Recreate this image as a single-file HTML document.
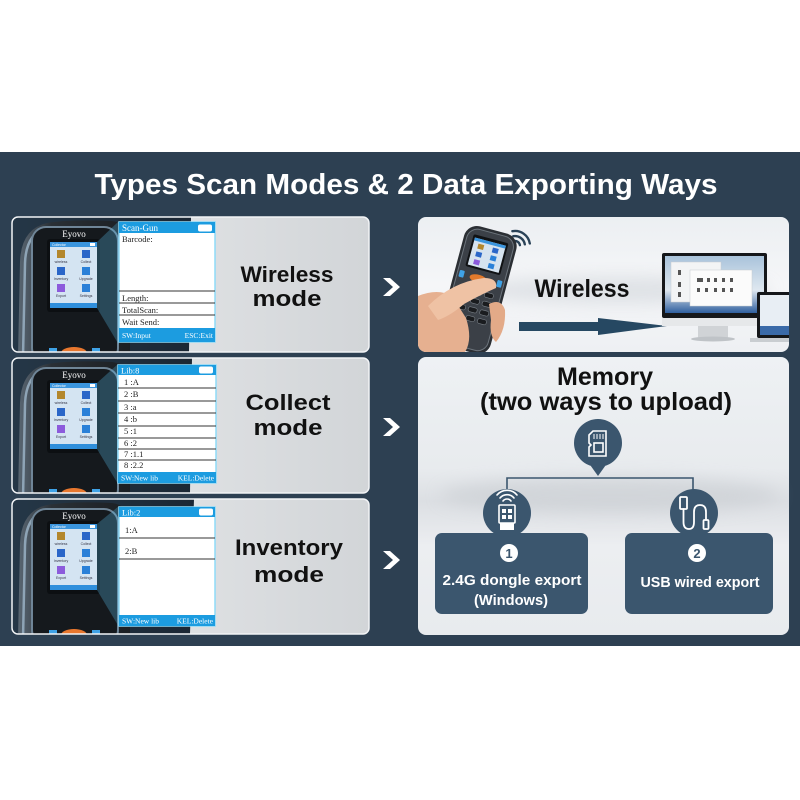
<!DOCTYPE html>
<html><head><meta charset="utf-8"><style>
html,body{margin:0;padding:0;background:#fff;width:800px;height:800px;overflow:hidden}
svg{display:block}
text{font-family:"Liberation Sans",sans-serif}
.sf{font-family:"Liberation Serif",serif}
</style></head><body>
<svg width="800" height="800" viewBox="0 0 800 800" xmlns="http://www.w3.org/2000/svg">
<defs>
 <linearGradient id="lp" x1="0" x2="1" y1="0" y2="0"><stop offset="0" stop-color="#e9ebed"/><stop offset="1" stop-color="#d2d5d8"/></linearGradient>
 <linearGradient id="dk" x1="0" x2="1"><stop offset="0" stop-color="#253747"/><stop offset="1" stop-color="#1b2734"/></linearGradient>
 <linearGradient id="shell" x1="0" x2="1"><stop offset="0" stop-color="#5a6773"/><stop offset="0.3" stop-color="#2a3036"/><stop offset="1" stop-color="#1b1f23"/></linearGradient>
 <linearGradient id="rt" x1="0" y1="0" x2="0" y2="1"><stop offset="0" stop-color="#eceff2"/><stop offset="0.5" stop-color="#f5f6f8"/><stop offset="1" stop-color="#eef0f3"/></linearGradient>
 <linearGradient id="rb" x1="0" y1="0" x2="0" y2="1"><stop offset="0" stop-color="#eef1f4"/><stop offset="0.4" stop-color="#e8ebee"/><stop offset="0.52" stop-color="#dcdfe3"/><stop offset="0.68" stop-color="#eceef1"/><stop offset="1" stop-color="#e8ebee"/></linearGradient>
 <linearGradient id="desk" x1="0" y1="0" x2="0" y2="1"><stop offset="0" stop-color="#a9c3db"/><stop offset="0.6" stop-color="#dfe8f0"/><stop offset="1" stop-color="#2f5f9e"/></linearGradient>
 <clipPath id="cp"><rect x="0" y="0" width="357" height="135" rx="6"/></clipPath>
 <clipPath id="cpr"><rect x="418" y="217" width="371" height="135" rx="8"/></clipPath>
 <filter id="bl" x="-50%" y="-50%" width="200%" height="200%"><feGaussianBlur stdDeviation="8"/></filter>
</defs>

<rect x="0" y="152" width="800" height="494" fill="#2d4052"/>
<text x="406" y="194" text-anchor="middle" font-size="29" font-weight="bold" fill="#fff" textLength="623" lengthAdjust="spacingAndGlyphs">Types Scan Modes &amp; 2 Data Exporting Ways</text>

<!-- ========== LEFT PANEL 1 ========== -->
<g transform="translate(12,217)">
 <g clip-path="url(#cp)">
  <rect x="0" y="0" width="357" height="135" fill="url(#lp)"/>
  <polygon points="0,0 179,0 177,135 0,135" fill="url(#dk)"/>
  <path d="M6,140 L8,45 Q9,12 35,6 Q60,2 100,4 Q116,6 118,22 L118,140 Z" fill="url(#shell)"/>
  <path d="M11,140 L13,46 Q14,17 34,11" fill="none" stroke="#8ea4b6" stroke-width="2.5"/>
  <rect x="20" y="10" width="86" height="135" rx="14" fill="#15191d" stroke="#6f8597" stroke-width="2"/>
  <text x="62" y="20" class="sf" font-size="9" fill="#fff" text-anchor="middle">Eyovo</text>
  <rect x="35" y="22" width="53" height="73" rx="3" fill="#0c0f12"/>
  <rect x="38" y="25" width="47" height="66" fill="#d4e4f2"/>
  <rect x="38" y="25" width="47" height="5" fill="#3a95de"/>
  <text x="40" y="29" font-size="3.5" fill="#fff">Collector</text>
  <rect x="78" y="26" width="5" height="3" fill="#fff"/>
  <rect x="45" y="33" width="8" height="8" fill="#b3872c"/><rect x="70" y="33" width="8" height="8" fill="#2a66c8"/>
  <rect x="45" y="50" width="8" height="8" fill="#2a66c8"/><rect x="70" y="50" width="8" height="8" fill="#2a80d8"/>
  <rect x="45" y="67" width="8" height="8" fill="#8c5bdc"/><rect x="70" y="67" width="8" height="8" fill="#2a80d8"/>
  <g font-size="3.5" fill="#334" text-anchor="middle"><text x="49" y="46">wireless</text><text x="74" y="46">Collect</text><text x="49" y="63">Inventory</text><text x="74" y="63">Upgrade</text><text x="49" y="80">Export</text><text x="74" y="80">Settings</text></g>
  <rect x="38" y="86" width="47" height="5" fill="#2f8fdc"/>
  <ellipse cx="62" cy="136" rx="13" ry="6" fill="#e8772e"/>
  <rect x="37" y="131" width="8" height="6" fill="#3fa2e6"/><rect x="80" y="131" width="8" height="6" fill="#3fa2e6"/>
  <polygon points="85,25 107,4 107,128 85,91" fill="#5ab8e6" opacity="0.3"/>
  <rect x="107" y="5" width="96" height="120" fill="#fff" stroke="#8fdaf7" stroke-width="1.5"/>
  <rect x="107" y="5" width="96" height="11" fill="#1c9ce0"/>
  <text x="110" y="14" class="sf" font-size="9" fill="#fff">Scan-Gun</text>
  <rect x="186" y="7.5" width="14" height="7" rx="2" fill="#fff"/>
  <g class="sf" font-size="8.5" fill="#222">
   <text x="110" y="25" class="sf">Barcode:</text>
   <text x="110" y="84" class="sf">Length:</text>
   <text x="110" y="96" class="sf">TotalScan:</text>
   <text x="110" y="108" class="sf">Wait Send:</text>
  </g>
  <g stroke="#333" stroke-width="1"><line x1="107" y1="74" x2="203" y2="74"/><line x1="107" y1="86" x2="203" y2="86"/><line x1="107" y1="98" x2="203" y2="98"/></g>
  <rect x="107" y="111" width="96" height="14" fill="#1c9ce0"/>
  <text x="110" y="121" class="sf" font-size="7.5" fill="#fff">SW:Input</text>
  <text x="201" y="121" class="sf" font-size="7.5" fill="#fff" text-anchor="end">ESC:Exit</text>
  <text x="275" y="65" text-anchor="middle" font-size="22" font-weight="bold" fill="#111" textLength="93" lengthAdjust="spacingAndGlyphs">Wireless</text>
  <text x="275" y="89" text-anchor="middle" font-size="22" font-weight="bold" fill="#111" textLength="69" lengthAdjust="spacingAndGlyphs">mode</text>
 </g>
 <rect x="0" y="0" width="357" height="135" rx="6" fill="none" stroke="#f2f4f6" stroke-width="1.5"/>
</g>

<!-- ========== LEFT PANEL 2 ========== -->
<g transform="translate(12,358)">
 <g clip-path="url(#cp)">
  <rect x="0" y="0" width="357" height="135" fill="url(#lp)"/>
  <polygon points="0,0 180,0 178,135 0,135" fill="url(#dk)"/>
  <path d="M6,140 L8,45 Q9,12 35,6 Q60,2 100,4 Q116,6 118,22 L118,140 Z" fill="url(#shell)"/>
  <path d="M11,140 L13,46 Q14,17 34,11" fill="none" stroke="#8ea4b6" stroke-width="2.5"/>
  <rect x="20" y="10" width="86" height="135" rx="14" fill="#15191d" stroke="#6f8597" stroke-width="2"/>
  <text x="62" y="20" class="sf" font-size="9" fill="#fff" text-anchor="middle">Eyovo</text>
  <rect x="35" y="22" width="53" height="73" rx="3" fill="#0c0f12"/>
  <rect x="38" y="25" width="47" height="66" fill="#d4e4f2"/>
  <rect x="38" y="25" width="47" height="5" fill="#3a95de"/>
  <text x="40" y="29" font-size="3.5" fill="#fff">Collector</text>
  <rect x="78" y="26" width="5" height="3" fill="#fff"/>
  <rect x="45" y="33" width="8" height="8" fill="#b3872c"/><rect x="70" y="33" width="8" height="8" fill="#2a66c8"/>
  <rect x="45" y="50" width="8" height="8" fill="#2a66c8"/><rect x="70" y="50" width="8" height="8" fill="#2a80d8"/>
  <rect x="45" y="67" width="8" height="8" fill="#8c5bdc"/><rect x="70" y="67" width="8" height="8" fill="#2a80d8"/>
  <g font-size="3.5" fill="#334" text-anchor="middle"><text x="49" y="46">wireless</text><text x="74" y="46">Collect</text><text x="49" y="63">Inventory</text><text x="74" y="63">Upgrade</text><text x="49" y="80">Export</text><text x="74" y="80">Settings</text></g>
  <rect x="38" y="86" width="47" height="5" fill="#2f8fdc"/>
  <ellipse cx="62" cy="136" rx="13" ry="6" fill="#e8772e"/>
  <rect x="37" y="131" width="8" height="6" fill="#3fa2e6"/><rect x="80" y="131" width="8" height="6" fill="#3fa2e6"/>
  <polygon points="85,25 106,6 106,126 85,91" fill="#5ab8e6" opacity="0.3"/>
  <rect x="106" y="7" width="98" height="118" fill="#fff" stroke="#8fdaf7" stroke-width="1.5"/>
  <rect x="106" y="7" width="98" height="10" fill="#1c9ce0"/>
  <text x="109" y="15.5" class="sf" font-size="8.5" fill="#fff">Lib:8</text>
  <rect x="187" y="8.5" width="14" height="7" rx="2" fill="#fff"/>
  <g class="sf" font-size="8.5" fill="#222">
   <text x="112" y="27" class="sf">1 :A</text>
   <text x="112" y="39" class="sf">2 :B</text>
   <text x="112" y="52" class="sf">3 :a</text>
   <text x="112" y="64" class="sf">4 :b</text>
   <text x="112" y="76" class="sf">5 :1</text>
   <text x="112" y="88" class="sf">6 :2</text>
   <text x="112" y="99" class="sf">7 :1.1</text>
   <text x="112" y="110" class="sf">8 :2.2</text>
  </g>
  <g stroke="#333" stroke-width="1"><line x1="106" y1="30" x2="204" y2="30"/><line x1="106" y1="43" x2="204" y2="43"/><line x1="106" y1="55" x2="204" y2="55"/><line x1="106" y1="68" x2="204" y2="68"/><line x1="106" y1="80" x2="204" y2="80"/><line x1="106" y1="91" x2="204" y2="91"/><line x1="106" y1="102" x2="204" y2="102"/></g>
  <rect x="106" y="114" width="98" height="11" fill="#1c9ce0"/>
  <text x="109" y="122.5" class="sf" font-size="7.5" fill="#fff">SW:New lib</text>
  <text x="202" y="122.5" class="sf" font-size="7.5" fill="#fff" text-anchor="end">KEL:Delete</text>
  <text x="276" y="52" text-anchor="middle" font-size="22" font-weight="bold" fill="#111" textLength="85" lengthAdjust="spacingAndGlyphs">Collect</text>
  <text x="276" y="77" text-anchor="middle" font-size="22" font-weight="bold" fill="#111" textLength="69" lengthAdjust="spacingAndGlyphs">mode</text>
 </g>
 <rect x="0" y="0" width="357" height="135" rx="6" fill="none" stroke="#f2f4f6" stroke-width="1.5"/>
</g>

<!-- ========== LEFT PANEL 3 ========== -->
<g transform="translate(12,499)">
 <g clip-path="url(#cp)">
  <rect x="0" y="0" width="357" height="135" fill="url(#lp)"/>
  <polygon points="0,0 182,0 178,135 0,135" fill="url(#dk)"/>
  <path d="M6,140 L8,45 Q9,12 35,6 Q60,2 100,4 Q116,6 118,22 L118,140 Z" fill="url(#shell)"/>
  <path d="M11,140 L13,46 Q14,17 34,11" fill="none" stroke="#8ea4b6" stroke-width="2.5"/>
  <rect x="20" y="10" width="86" height="135" rx="14" fill="#15191d" stroke="#6f8597" stroke-width="2"/>
  <text x="62" y="20" class="sf" font-size="9" fill="#fff" text-anchor="middle">Eyovo</text>
  <rect x="35" y="22" width="53" height="73" rx="3" fill="#0c0f12"/>
  <rect x="38" y="25" width="47" height="66" fill="#d4e4f2"/>
  <rect x="38" y="25" width="47" height="5" fill="#3a95de"/>
  <text x="40" y="29" font-size="3.5" fill="#fff">Collector</text>
  <rect x="78" y="26" width="5" height="3" fill="#fff"/>
  <rect x="45" y="33" width="8" height="8" fill="#b3872c"/><rect x="70" y="33" width="8" height="8" fill="#2a66c8"/>
  <rect x="45" y="50" width="8" height="8" fill="#2a66c8"/><rect x="70" y="50" width="8" height="8" fill="#2a80d8"/>
  <rect x="45" y="67" width="8" height="8" fill="#8c5bdc"/><rect x="70" y="67" width="8" height="8" fill="#2a80d8"/>
  <g font-size="3.5" fill="#334" text-anchor="middle"><text x="49" y="46">wireless</text><text x="74" y="46">Collect</text><text x="49" y="63">Inventory</text><text x="74" y="63">Upgrade</text><text x="49" y="80">Export</text><text x="74" y="80">Settings</text></g>
  <rect x="38" y="86" width="47" height="5" fill="#2f8fdc"/>
  <ellipse cx="62" cy="136" rx="13" ry="6" fill="#e8772e"/>
  <rect x="37" y="131" width="8" height="6" fill="#3fa2e6"/><rect x="80" y="131" width="8" height="6" fill="#3fa2e6"/>
  <polygon points="85,25 107,7 107,128 85,91" fill="#5ab8e6" opacity="0.3"/>
  <rect x="107" y="8" width="96" height="119" fill="#fff" stroke="#8fdaf7" stroke-width="1.5"/>
  <rect x="107" y="8" width="96" height="10" fill="#1c9ce0"/>
  <text x="110" y="16.5" class="sf" font-size="8.5" fill="#fff">Lib:2</text>
  <rect x="187" y="9.5" width="14" height="7" rx="2" fill="#fff"/>
  <g class="sf" font-size="8.5" fill="#222">
   <text x="113" y="34" class="sf">1:A</text>
   <text x="113" y="55" class="sf">2:B</text>
  </g>
  <g stroke="#333" stroke-width="1"><line x1="107" y1="39" x2="203" y2="39"/><line x1="107" y1="60" x2="203" y2="60"/></g>
  <rect x="107" y="116" width="96" height="11" fill="#1c9ce0"/>
  <text x="110" y="124.5" class="sf" font-size="7.5" fill="#fff">SW:New lib</text>
  <text x="201" y="124.5" class="sf" font-size="7.5" fill="#fff" text-anchor="end">KEL:Delete</text>
  <text x="277" y="56" text-anchor="middle" font-size="22" font-weight="bold" fill="#111" textLength="108" lengthAdjust="spacingAndGlyphs">Inventory</text>
  <text x="277" y="83" text-anchor="middle" font-size="22" font-weight="bold" fill="#111" textLength="70" lengthAdjust="spacingAndGlyphs">mode</text>
 </g>
 <rect x="0" y="0" width="357" height="135" rx="6" fill="none" stroke="#f2f4f6" stroke-width="1.5"/>
</g>

<!-- chevrons -->
<g fill="#fff">
 <polygon points="383,278 390,278 400,287 390,296 383,296 393,287"/>
 <polygon points="383,418 390,418 400,427 390,436 383,436 393,427"/>
 <polygon points="383,551 390,551 400,560 390,569 383,569 393,560"/>
</g>

<!-- ========== RIGHT TOP PANEL ========== -->
<rect x="418" y="217" width="371" height="135" rx="8" fill="url(#rt)"/>
<g clip-path="url(#cpr)">
 <ellipse cx="620" cy="290" rx="150" ry="14" fill="#d6dadf" opacity="0.7" filter="url(#bl)"/>
 <!-- wifi arcs -->
 <g fill="none" stroke="#2a4257" stroke-width="2.4" stroke-linecap="round">
  <path d="M514.1,241.1 A5,5 0 0 1 519.9,245.1"/>
  <path d="M513.3,236.2 A10,10 0 0 1 524.8,244.3"/>
  <path d="M512.4,231.2 A15,15 0 0 1 529.8,243.4"/>
 </g>
 <!-- phone -->
 <g transform="translate(478,288) rotate(15)">
  <rect x="-27" y="-60" width="54" height="124" rx="13" fill="#2b2f34"/>
  <rect x="-24" y="-57" width="48" height="118" rx="11" fill="#3b4047" stroke="#6c747c" stroke-width="1"/>
  <rect x="-18" y="-51" width="36" height="33" rx="2" fill="#101214"/>
  <rect x="-16" y="-48" width="32" height="28" fill="#d6e3ef"/>
  <rect x="-16" y="-48" width="32" height="3" fill="#3a95de"/>
  <rect x="-11" y="-43" width="6" height="5" fill="#b3872c"/><rect x="4" y="-43" width="6" height="5" fill="#2a66c8"/>
  <rect x="-11" y="-35" width="6" height="5" fill="#2a66c8"/><rect x="4" y="-35" width="6" height="5" fill="#2a80d8"/>
  <rect x="-11" y="-27" width="6" height="5" fill="#8c5bdc"/><rect x="4" y="-27" width="6" height="5" fill="#2a80d8"/>
  <ellipse cx="-2" cy="-9" rx="9" ry="4" fill="#e27a2c"/>
  <rect x="-22" y="-13" width="5" height="7" rx="1" fill="#3fa2e6"/>
  <rect x="17" y="-13" width="5" height="7" rx="1" fill="#3fa2e6"/>
  <g fill="#1a1c1f" stroke="#7a8188" stroke-width="0.6">
   <rect x="-16" y="2" width="9" height="5" rx="2"/><rect x="-4" y="2" width="9" height="5" rx="2"/><rect x="8" y="2" width="9" height="5" rx="2"/>
   <rect x="-16" y="11" width="9" height="5" rx="2"/><rect x="-4" y="11" width="9" height="5" rx="2"/><rect x="8" y="11" width="9" height="5" rx="2"/>
   <rect x="-16" y="20" width="9" height="5" rx="2"/><rect x="-4" y="20" width="9" height="5" rx="2"/><rect x="8" y="20" width="9" height="5" rx="2"/>
   <rect x="-16" y="29" width="9" height="5" rx="2"/><rect x="-4" y="29" width="9" height="5" rx="2"/><rect x="8" y="29" width="9" height="5" rx="2"/>
  </g>
  <circle cx="-6" cy="41" r="2" fill="#d33"/>
 </g>
 <!-- hand -->
 <path d="M418,296 Q438,288 452,296 L466,318 Q474,343 462,356 L418,356 Z" fill="#e6b090"/>
 <path d="M428,306 Q452,282 484,278 Q498,278 496,288 Q482,294 464,304 Q450,316 438,320 Z" fill="#efc2a4"/>
 <path d="M489,304 Q501,298 505,310 Q506,330 496,342 Q489,336 491,320 Z" fill="#e3aa88"/>
 <!-- wireless text -->
 <text x="582" y="297" text-anchor="middle" font-size="25" font-weight="bold" fill="#111" textLength="95" lengthAdjust="spacingAndGlyphs">Wireless</text>
 <!-- arrow -->
 <rect x="519" y="322" width="81" height="9" fill="#264862"/>
 <polygon points="598,318 667,326 598,335" fill="#264862"/>
 <!-- monitor -->
 <rect x="662" y="253" width="105" height="65" rx="2" fill="#15171a"/>
 <rect x="665" y="256" width="99" height="57" fill="url(#desk)"/>
 <rect x="671" y="262" width="50" height="40" fill="#f3f4f5" stroke="#c8ccd0" stroke-width="0.5"/>
 <rect x="690" y="270" width="62" height="36" fill="#fbfbfb" stroke="#c8ccd0" stroke-width="0.5"/>
 <g fill="#555"><rect x="697" y="278" width="6" height="4"/><rect x="707" y="278" width="3" height="4"/><rect x="714" y="278" width="3" height="4"/><rect x="722" y="278" width="3" height="4"/><rect x="730" y="278" width="3" height="4"/><rect x="697" y="288" width="3" height="4"/><rect x="705" y="288" width="3" height="4"/><rect x="714" y="288" width="3" height="4"/><rect x="722" y="288" width="3" height="4"/><rect x="730" y="288" width="3" height="4"/><rect x="678" y="270" width="3" height="5"/><rect x="678" y="282" width="3" height="5"/><rect x="678" y="292" width="3" height="5"/></g>
 <rect x="662" y="318" width="105" height="8" fill="#e6e8ea"/>
 <rect x="698" y="326" width="30" height="12" fill="#d0d3d6"/>
 <ellipse cx="713" cy="339" rx="22" ry="2.5" fill="#bfc3c7"/>
 <!-- laptop -->
 <rect x="757" y="292" width="38" height="46" rx="2" fill="#15171a"/>
 <rect x="760" y="295" width="32" height="40" fill="#e8eef4"/>
 <rect x="760" y="326" width="32" height="9" fill="#3a6aa8"/>
 <rect x="750" y="338" width="45" height="4" fill="#c9cdd1"/>
</g>

<!-- ========== RIGHT BOTTOM PANEL ========== -->
<rect x="418" y="357" width="371" height="278" rx="8" fill="url(#rb)"/>
<ellipse cx="610" cy="495" rx="170" ry="18" fill="#c9cdd2" opacity="0.6" filter="url(#bl)"/>
<text x="605" y="385" text-anchor="middle" font-size="25" font-weight="bold" fill="#111" textLength="96" lengthAdjust="spacingAndGlyphs">Memory</text>
<text x="606" y="410" text-anchor="middle" font-size="25" font-weight="bold" fill="#111" textLength="252" lengthAdjust="spacingAndGlyphs">(two ways to upload)</text>
<!-- pin -->
<circle cx="598" cy="443" r="24" fill="#3b566e"/>
<polygon points="588,462 608,462 598,476" fill="#3b566e"/>
<g fill="none" stroke="#fff" stroke-width="1.6">
 <path d="M593,431 L606,431 L606,456 L589,456 L589,447 L591,445 L589,443 L589,435 Z"/>
 <rect x="594" y="443" width="9" height="9"/>
</g>
<g stroke="#fff" stroke-width="1"><line x1="594" y1="434" x2="594" y2="439"/><line x1="597" y1="434" x2="597" y2="439"/><line x1="600" y1="434" x2="600" y2="439"/><line x1="603" y1="434" x2="603" y2="439"/></g>
<!-- connector -->
<polyline points="507,492 507,478 693,478 693,492" fill="none" stroke="#3b566e" stroke-width="1.6"/>
<!-- boxes -->
<rect x="435" y="533" width="153" height="81" rx="7" fill="#3b566e"/>
<rect x="625" y="533" width="148" height="81" rx="7" fill="#3b566e"/>
<circle cx="507" cy="513" r="24" fill="#3b566e"/>
<circle cx="694" cy="513" r="24" fill="#3b566e"/>
<!-- dongle icon -->
<g fill="none" stroke="#fff" stroke-width="1.6" stroke-linecap="round">
 <path d="M503,501 A5,5 0 0 1 511,501"/>
 <path d="M500,498 A9,9 0 0 1 514,498"/>
 <path d="M497,495 A13,13 0 0 1 517,495"/>
 <rect x="499" y="505" width="16" height="18" rx="1"/>
</g>
<rect x="500" y="523" width="14" height="7" fill="#fff"/>
<g fill="#fff"><rect x="502" y="509" width="4" height="4"/><rect x="508" y="509" width="4" height="4"/><rect x="502" y="515" width="4" height="4"/><rect x="508" y="515" width="4" height="4"/></g>
<!-- cable icon -->
<g fill="none" stroke="#fff" stroke-width="1.8" stroke-linecap="round">
 <rect x="680" y="497" width="7" height="12" rx="1"/>
 <path d="M683.5,509 L683.5,522 Q683.5,529 689,529 Q694,529 694,522 L694,512 Q694,505 700,505 Q706,505 706,512 L706,520"/>
 <rect x="703.5" y="520" width="5" height="9" rx="1"/>
</g>
<!-- numbers -->
<circle cx="509" cy="553" r="9" fill="#fff"/>
<text x="509" y="558" text-anchor="middle" font-size="13" font-weight="bold" fill="#3b566e">1</text>
<circle cx="697" cy="553" r="9" fill="#fff"/>
<text x="697" y="558" text-anchor="middle" font-size="13" font-weight="bold" fill="#3b566e">2</text>
<text x="512" y="585" text-anchor="middle" font-size="14.5" font-weight="bold" fill="#fff" textLength="139" lengthAdjust="spacingAndGlyphs">2.4G dongle export</text>
<text x="511" y="605" text-anchor="middle" font-size="14.5" font-weight="bold" fill="#fff" textLength="74" lengthAdjust="spacingAndGlyphs">(Windows)</text>
<text x="700" y="587" text-anchor="middle" font-size="14.5" font-weight="bold" fill="#fff" textLength="119" lengthAdjust="spacingAndGlyphs">USB wired export</text>
</svg>
</body></html>
